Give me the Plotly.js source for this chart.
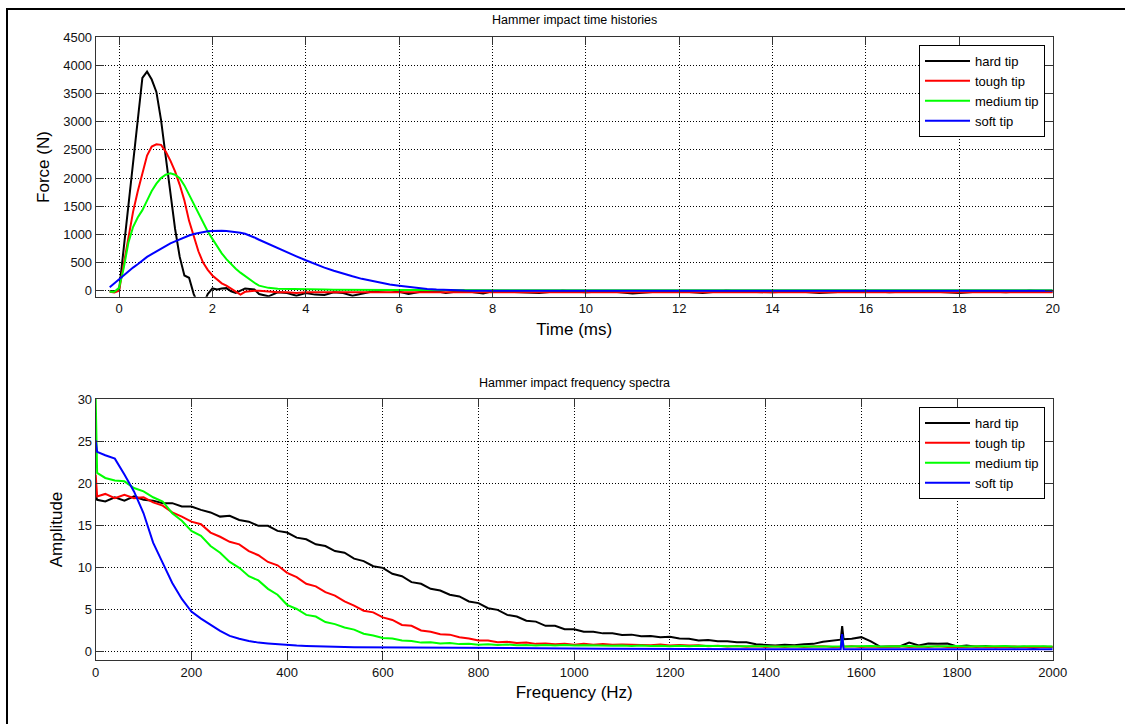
<!DOCTYPE html>
<html>
<head>
<meta charset="utf-8">
<script src="https://cdn.plot.ly/plotly-3.0.1.min.js"></script>
<style>
html,body{margin:0;padding:0;background:#fff;}
#chart{width:1125px;height:724px;}
</style>
</head>
<body>
<div id="chart"></div>
<script>
// ---------- Data: time histories ----------
const seriesNames = ['hard tip', 'tough tip', 'medium tip', 'soft tip'];
const seriesColors = ['#000000', '#ff0000', '#00ff00', '#0000ff'];

const timeMs = [
  -0.2, -0.1, 0.0, 0.1, 0.2, 0.3, 0.4, 0.5, 0.6, 0.7, 0.8, 0.9, 1.0, 1.1, 1.2, 1.3, 1.4, 1.5, 1.6, 1.7,
  1.8, 1.9, 2.0, 2.1, 2.2, 2.3, 2.4, 2.5, 2.6, 2.7, 2.8, 2.9, 3.0,
  3.2, 3.4, 3.6, 3.8, 4.0, 4.2, 4.4, 4.6, 4.8, 5.0, 5.2, 5.4, 5.6, 5.8, 6.0, 6.2, 6.4, 6.6, 6.8, 7.0,
  7.2, 7.4, 7.6, 7.8, 8.0,
  8.5, 9, 9.5, 10, 10.5, 11, 11.5, 12, 12.5, 13, 13.5, 14, 14.5, 15, 15.5, 16, 16.5, 17, 17.5, 18,
  18.5, 19, 19.5, 20
];
const forceHard = [
  -10, 0, 0, 750, 1500, 2250, 3000, 3780, 3890, 3750, 3530, 3030, 2380, 1700, 1100, 600, 270, 230, -60, -250,
  -250, -60, 40, 20, 40, 45, -10, -40, 0, 40, 30, 20, -60,
  -100, -30, -40, -90, -40, -70, -75, -30, -40, -90, -50, -20, 0, 10, -20, -60, -30, 0, -10, -40,
  -20, 0, -30, -50, -10,
  -20, -40, 0, -30, -10, -50, -20, -10, -40, 0, -20, -30, -10, -40, -20, 0, -30, -10, -20, -40,
  -10, -30, 0, -20
];
const forceTough = [
  -20, -30, 0, 480, 950, 1400, 1760, 2060, 2400, 2560, 2600, 2590, 2470, 2310, 2120, 1880, 1600, 1240, 960, 700,
  500, 370, 270, 200, 130, 90, 40, -20, -70, -20, -5, 0, 0,
  -20, -30, -30, -40, -30, -30, -40, -35, -30, -30, -40, -30, -30, -35, -30, -30, -40, -30, -30, -30,
  -35, -30, -30, -30, -30,
  -30, -35, -30, -30, -30, -35, -30, -30, -30, -30, -35, -30, -30, -30, -30, -30, -35, -30, -30, -30,
  -30, -30, -30, -30
];
const forceMedium = [
  -20, -20, 50, 400, 850, 1130, 1300, 1430, 1600, 1770, 1900, 2000, 2060, 2085, 2060, 1996, 1870, 1700, 1540, 1370,
  1200, 1050, 920, 790, 664, 560, 470, 390, 320, 260, 190, 140, 90,
  50, 35, 30, 25, 22, 20, 20, 18, 15, 15, 15, 12, 12, 10, 10, 10, 10, 10, 10, 10,
  10, 10, 8, 8, 8,
  8, 8, 10, 8, 8, 8, 10, 8, 8, 8, 10, 8, 8, 8, 8, 10, 8, 8, 8, 8,
  10, 8, 8, 8
];
const forceSoft = [
  60, 130, 210, 280, 340, 410, 470, 540, 600, 650, 700, 750, 790, 840, 875, 910, 950, 980, 1005, 1025,
  1040, 1055, 1062, 1066, 1065, 1060, 1052, 1042, 1030, 1010, 980, 945, 905,
  830, 750, 680, 610, 540, 470, 410, 355, 300, 255, 210, 175, 140, 110, 88, 65, 45, 30, 20, 10,
  5, 2, 0, 0, 0,
  0, 0, 0, 0, 0, 0, 0, 0, 0, 0, 0, 0, 0, 0, 0, 0, 0, 0, 0, 0,
  0, 0, 0, 0
];

// ---------- Data: frequency spectra ----------
const freqHz = [
  0, 3, 20, 40, 60, 80, 100, 120, 140, 160, 180, 200, 220, 240, 260, 280, 300, 320, 340, 360,
  380, 400, 420, 440, 460, 480, 500, 520, 540, 560, 580, 600, 620, 640, 660, 680, 700, 720, 740, 760,
  780, 800, 820, 840, 860, 880, 900, 920, 940, 960, 980, 1000, 1020, 1040, 1060, 1080, 1100, 1120, 1140, 1160,
  1180, 1200, 1220, 1240, 1260, 1280, 1300, 1320, 1340, 1360, 1380, 1400, 1420, 1440, 1460, 1480, 1500, 1520, 1540,
  1557, 1560, 1563,
  1580, 1600, 1620, 1640, 1660, 1680, 1700, 1720, 1740, 1760, 1780, 1800, 1820, 1840, 1860, 1880, 1900, 1920, 1940,
  1960, 1980, 2000
];
const ampHard = [
  18.6, 18.0, 17.8, 18.3, 17.9, 18.4, 18.0, 17.9, 17.6, 17.6, 17.2, 17.2, 16.8, 16.5, 16.0, 16.1, 15.6, 15.4, 14.9, 14.9,
  14.3, 14.1, 13.5, 13.3, 12.7, 12.5, 11.9, 11.7, 11.0, 10.7, 10.1, 9.9, 9.2, 8.9, 8.2, 8.0, 7.4, 7.2, 6.7, 6.5,
  5.9, 5.7, 5.1, 4.9, 4.3, 4.1, 3.6, 3.5, 3.0, 3.0, 2.6, 2.6, 2.3, 2.3, 2.1, 2.1, 1.9, 1.95, 1.75, 1.8,
  1.65, 1.7, 1.5, 1.45, 1.25, 1.3, 1.15, 1.15, 1.05, 1.05, 0.8, 0.75, 0.65, 0.75, 0.68, 0.8, 0.85, 1.1, 1.25,
  1.35, 2.95, 1.4,
  1.45, 1.65, 1.15, 0.5, 0.55, 0.55, 1.0, 0.65, 0.9, 0.85, 0.9, 0.55, 0.65, 0.5, 0.6, 0.45, 0.55, 0.45, 0.5,
  0.4, 0.5, 0.45
];
const ampTough = [
  21.0, 18.4, 18.7, 18.2, 18.6, 18.2, 18.3, 17.7, 17.3, 16.5, 16.0, 15.4, 15.1, 14.1, 13.6, 13.0, 12.7, 11.9, 11.4, 10.6,
  10.2, 9.3, 8.8, 8.0, 7.7, 7.0, 6.6, 5.9, 5.4, 4.8, 4.6, 4.0, 3.7, 3.1, 3.0, 2.45, 2.3, 2.0, 1.95, 1.65,
  1.5, 1.25, 1.25, 1.05, 1.1, 0.95, 1.0, 0.85, 0.9, 0.8, 0.85, 0.75, 0.85, 0.75, 0.82, 0.74, 0.78, 0.74, 0.78, 0.7,
  0.77, 0.67, 0.72, 0.65, 0.68, 0.58, 0.62, 0.55, 0.6, 0.52, 0.58, 0.48, 0.58, 0.48, 0.57, 0.47, 0.53, 0.56, 0.48,
  0.5, 1.0, 0.5,
  0.57, 0.48, 0.53, 0.47, 0.52, 0.57, 0.48, 0.53, 0.47, 0.57, 0.48, 0.52, 0.47, 0.53, 0.48, 0.52, 0.47, 0.53, 0.48,
  0.52, 0.47, 0.5
];
const ampMedium = [
  30.0, 21.2, 20.6, 20.3, 20.2, 19.4, 19.0, 18.3, 17.8, 16.4, 15.5, 14.3, 13.7, 12.5, 11.7, 10.6, 9.9, 8.9, 8.4, 7.4,
  6.7, 5.5, 5.0, 4.3, 4.1, 3.45, 3.2, 2.8, 2.55, 2.05, 1.85, 1.55, 1.5, 1.25, 1.2, 1.0, 1.05, 0.9, 0.95, 0.82,
  0.85, 0.76, 0.8, 0.72, 0.78, 0.7, 0.73, 0.67, 0.72, 0.65, 0.72, 0.65, 0.68, 0.64, 0.68, 0.62, 0.67, 0.6, 0.67, 0.6,
  0.64, 0.58, 0.64, 0.58, 0.62, 0.57, 0.6, 0.58, 0.6, 0.56, 0.57, 0.58, 0.53, 0.57, 0.53, 0.57, 0.53, 0.57, 0.53,
  0.55, 1.8, 0.55,
  0.57, 0.53, 0.6, 0.53, 0.57, 0.53, 0.6, 0.53, 0.57, 0.53, 0.57, 0.6, 0.53, 0.57, 0.53, 0.57, 0.6, 0.53, 0.57,
  0.53, 0.57, 0.55
];
const ampSoft = [
  25.1, 23.7, 23.3, 22.9, 21.0, 19.0, 16.4, 12.9, 10.5, 8.1, 6.2, 4.7, 3.85, 3.1, 2.4, 1.8, 1.45, 1.2, 1.0, 0.9,
  0.8, 0.7, 0.65, 0.6, 0.55, 0.52, 0.5, 0.48, 0.46, 0.45, 0.44, 0.43, 0.42, 0.4, 0.4, 0.38, 0.38, 0.37, 0.36, 0.36,
  0.35, 0.35, 0.34, 0.33, 0.33, 0.32, 0.32, 0.31, 0.31, 0.3, 0.3, 0.3, 0.29, 0.29, 0.28, 0.28, 0.27, 0.27, 0.26, 0.26,
  0.25, 0.25, 0.25, 0.24, 0.24, 0.23, 0.23, 0.22, 0.22, 0.22, 0.21, 0.21, 0.2, 0.2, 0.2, 0.2, 0.2, 0.2, 0.2,
  0.2, 2.0, 0.2,
  0.2, 0.2, 0.2, 0.2, 0.2, 0.2, 0.2, 0.2, 0.2, 0.2, 0.2, 0.2, 0.2, 0.2, 0.2, 0.2, 0.2, 0.2, 0.2,
  0.2, 0.2, 0.2
];

const timeTickVals = [0, 2, 4, 6, 8, 10, 12, 14, 16, 18, 20];
const forceTickVals = [0, 500, 1000, 1500, 2000, 2500, 3000, 3500, 4000, 4500];
const freqTickVals = [0, 200, 400, 600, 800, 1000, 1200, 1400, 1600, 1800, 2000];
const ampTickVals = [0, 5, 10, 15, 20, 25, 30];

const topTitle = 'Hammer impact time histories';
const bottomTitle = 'Hammer impact frequency spectra';

// ---------- Build traces ----------
const forces = [forceHard, forceTough, forceMedium, forceSoft];
const amps = [ampHard, ampTough, ampMedium, ampSoft];
const traces = [];
forces.forEach((f, i) => {
  traces.push({
    type: 'scatter', mode: 'lines', x: timeMs, y: f, name: seriesNames[i],
    xaxis: 'x', yaxis: 'y', legend: 'legend',
    line: {color: seriesColors[i], width: 2}
  });
});
amps.forEach((a, i) => {
  traces.push({
    type: 'scatter', mode: 'lines', x: freqHz, y: a, name: seriesNames[i],
    xaxis: 'x2', yaxis: 'y2', legend: 'legend2',
    line: {color: seriesColors[i], width: 2}
  });
});

const W = 1125, H = 724;
const px = v => v / W;
const py = v => 1 - v / H;

const axisStyle = {
  ticks: 'inside', ticklen: 8, tickwidth: 1, tickcolor: '#333',
  showline: true, linecolor: '#333', linewidth: 1, mirror: 'ticks',
  showgrid: true, gridcolor: '#000', gridwidth: 1, griddash: '1px,2px',
  zeroline: false, automargin: false,
  tickfont: {size: 13, color: '#111'}
};
const titleFont = {size: 17, color: '#000'};

const legendStyle = {
  xanchor: 'right', yanchor: 'top', bgcolor: '#fff', bordercolor: '#000', borderwidth: 1,
  font: {size: 13, color: '#000'}, itemwidth: 45, tracegroupgap: 0
};

const layout = {
  width: W, height: H,
  margin: {l: 0, r: 0, t: 0, b: 0},
  paper_bgcolor: '#fff', plot_bgcolor: '#fff',
  font: {family: '"Liberation Sans", Arial, sans-serif', size: 12, color: '#000'},
  showlegend: true,
  xaxis: Object.assign({}, axisStyle, {
    domain: [px(95.7), px(1052.7)], anchor: 'y', range: [-0.5, 20],
    tickvals: timeTickVals,
    title: {text: 'Time (ms)', font: titleFont, standoff: 7}
  }),
  yaxis: Object.assign({}, axisStyle, {
    domain: [py(296.7), py(37.3)], anchor: 'x', range: [-107, 4500],
    tickvals: forceTickVals,
    title: {text: 'Force (N)', font: titleFont, standoff: 9}
  }),
  xaxis2: Object.assign({}, axisStyle, {
    domain: [px(95.7), px(1052.7)], anchor: 'y2', range: [0, 2000],
    tickvals: freqTickVals,
    title: {text: 'Frequency (Hz)', font: titleFont, standoff: 7}
  }),
  yaxis2: Object.assign({}, axisStyle, {
    domain: [py(660), py(399)], anchor: 'x2', range: [-1.07, 30],
    tickvals: ampTickVals,
    title: {text: 'Amplitude', font: titleFont, standoff: 10}
  }),
  legend: Object.assign({}, legendStyle, {x: px(1045), y: py(45)}),
  legend2: Object.assign({}, legendStyle, {x: px(1045), y: py(407)}),
  annotations: [
    {text: topTitle, xref: 'paper', yref: 'paper', x: px(574.2), y: py(20),
     xanchor: 'center', yanchor: 'middle', showarrow: false, font: {size: 12.5, color: '#000'}},
    {text: bottomTitle, xref: 'paper', yref: 'paper', x: px(574.2), y: py(383),
     xanchor: 'center', yanchor: 'middle', showarrow: false, font: {size: 12.5, color: '#000'}}
  ],
  shapes: [
    {type: 'line', xref: 'paper', yref: 'paper', x0: px(6), x1: 1, y0: py(9), y1: py(9),
     line: {color: '#000', width: 2}},
    {type: 'line', xref: 'paper', yref: 'paper', x0: px(7), x1: px(7), y0: 0, y1: py(8),
     line: {color: '#000', width: 2}}
  ]
};

Plotly.newPlot('chart', traces, layout, {displayModeBar: false, staticPlot: true});
</script>
</body>
</html>
